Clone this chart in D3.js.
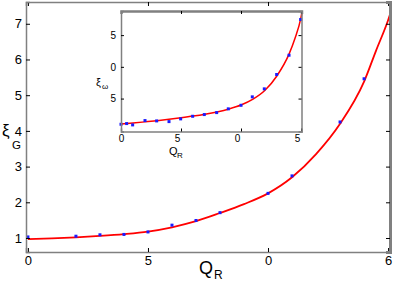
<!DOCTYPE html>
<html>
<head>
<meta charset="utf-8">
<script src="https://cdn.jsdelivr.net/npm/d3@7"></script>
<style>
  body { margin: 0; background: #fff; }
  text { font-family: "Liberation Sans", Arial, sans-serif; }
</style>
</head>
<body>
<div id="container"></div>
<script>
// main panel: fitted curve and measured points
const mainCurveQ = [0, 1, 2, 3, 4, 5, 6, 7, 8, 9, 10, 11, 12, 13, 14, 14.5, 15, 15.1]
const mainCurveXi = [0.97, 0.99, 1.02, 1.06, 1.11, 1.18, 1.30, 1.47, 1.70, 1.95, 2.25, 2.70, 3.35, 4.20, 5.38, 6.25, 7.10, 7.30]
const mainPointQ = [0, 2, 3, 4, 5, 6, 7, 8, 10, 11, 13, 14]
const mainPointXi = [1.03, 1.05, 1.09, 1.10, 1.17, 1.36, 1.49, 1.71, 2.25, 2.74, 4.25, 5.46]
const mainXTicks = [0, 5, 10, 15]
const mainXLabels = ["0", "5", "0", "6"]
const mainYTicks = [1, 2, 3, 4, 5, 6, 7]

// inset panel
const insetCurveQ = [0, 1, 2, 3, 4, 5, 6, 7, 8, 9, 10, 11, 12, 13, 14, 14.5, 15, 15.1]
const insetCurveXi = [1.0, 1.15, 1.33, 1.52, 1.74, 1.98, 2.24, 2.54, 2.90, 3.36, 3.98, 4.9, 6.3, 8.6, 12.0, 14.5, 17.8, 18.8]
const insetPointQ = [0, 0.47, 0.97, 2, 2.97, 4, 4.97, 5.97, 6.94, 7.97, 8.94, 10, 10.94, 11.94, 12.97, 14, 14.97]
const insetPointXi = [0.95, 1.06, 0.85, 1.53, 1.48, 1.37, 1.80, 2.21, 2.48, 2.79, 3.38, 3.94, 5.27, 6.53, 8.79, 11.83, 17.46]
const insetXTicks = [0, 5, 10, 15]
const insetXLabels = ["0", "5", "0", "5"]
const insetYTicks = [5, 10, 15]
const insetYLabels = ["5", "0", "5"]

const W = 399, H = 282
const svg = d3.select("#container").append("svg")
  .attr("width", W).attr("height", H)

function panel(box, xDom, yDom, curveQ, curveXi, ptQ, ptXi, opt) {
  const x = d3.scaleLinear().domain(xDom).range([box.left, box.right])
  const y = d3.scaleLinear().domain(yDom).range([box.bottom, box.top])
  const g = svg.append("g")

  g.append("rect")
    .attr("x", box.left).attr("y", box.top)
    .attr("width", box.right - box.left).attr("height", box.bottom - box.top)
    .attr("fill", "#fff")

  const line = d3.line().x((d, i) => x(curveQ[i])).y(d => y(d)).curve(d3.curveMonotoneX)
  g.append("path")
    .datum(curveXi)
    .attr("d", line)
    .attr("fill", "none")
    .attr("stroke", "#ff0000")
    .attr("stroke-width", opt.lw)

  g.selectAll(".pt")
    .data(ptXi)
    .join("rect")
    .attr("x", (d, i) => x(ptQ[i]) - opt.ps / 2)
    .attr("y", d => y(d) - opt.ps / 2)
    .attr("width", opt.ps).attr("height", opt.ps)
    .attr("fill", "#1a1aff")

  // axes, ticks inside like matlab
  const bottom = g.append("g").attr("transform", `translate(0,${box.bottom})`)
    .call(d3.axisBottom(x).tickValues(opt.xTicks).tickSize(-opt.tl).tickPadding(opt.tl + opt.xPad)
      .tickFormat((d, i) => opt.xLabels[i]))
  const top = g.append("g").attr("transform", `translate(0,${box.top})`)
    .call(d3.axisTop(x).tickValues(opt.xTicks).tickSize(-opt.tl).tickFormat(""))
  const left = g.append("g").attr("transform", `translate(${box.left},0)`)
    .call(d3.axisLeft(y).tickValues(opt.yTicks).tickSize(-opt.tl).tickPadding(opt.tl + opt.yPad)
      .tickFormat((d, i) => opt.yLabels[i]))
  const right = g.append("g").attr("transform", `translate(${box.right},0)`)
    .call(d3.axisRight(y).tickValues(opt.yTicks).tickSize(-opt.tl).tickFormat(""))

  for (const a of [bottom, top, left, right]) {
    a.select(".domain").attr("stroke", "#808080").attr("stroke-width", 1.5)
    a.selectAll(".tick line").attr("stroke", "#000")
    a.selectAll("text").attr("fill", "#000").style("font-size", opt.fs + "px")
      .style("font-family", "'Liberation Sans', Arial, sans-serif")
  }
  bottom.selectAll("text").attr("dx", (d, i) => i == 0 ? 0 : opt.xdx)
  top.select(".domain").attr("stroke-width", opt.topW)
  right.select(".domain").attr("stroke-width", opt.rightW)
  return {x, y}
}

// main axes
panel({left: 26, right: 390, top: 2, bottom: 252},
  [-0.08, 15.08], [0.608, 7.61],
  mainCurveQ, mainCurveXi, mainPointQ, mainPointXi,
  {lw: 1.8, ps: 3, tl: 4, xPad: 0, yPad: 0, fs: 13, xdx: 0,
   xTicks: mainXTicks, xLabels: mainXLabels,
   yTicks: mainYTicks, yLabels: mainYTicks.map(String), topW: 1.5, rightW: 3})

// inset axes
panel({left: 121, right: 301.5, top: 11, bottom: 131.5},
  [0, 15.04], [-0.19, 18.8],
  insetCurveQ, insetCurveXi, insetPointQ, insetPointXi,
  {lw: 1.5, ps: 3, tl: 3, xPad: 0, yPad: 2, fs: 10, xdx: -4,
   xTicks: insetXTicks, xLabels: insetXLabels,
   yTicks: insetYTicks, yLabels: insetYLabels, topW: 2.5, rightW: 1.5})

// axis titles, symbol and subscript as separate texts
function title(xp, yp, main, sub, fs, sfs, sx, sy) {
  svg.append("text").attr("x", xp).attr("y", yp)
    .style("font-size", fs + "px").attr("fill", "#000").text(main)
  svg.append("text").attr("x", xp + sx).attr("y", yp + sy)
    .style("font-size", sfs + "px").attr("fill", "#000").text(sub)
}
title(2, 136, "ξ", "G", 17, 11.5, 10, 13)
title(199, 274, "Q", "R", 18, 12, 15, 5)
title(96, 86, "ξ", "ω", 11, 8, 6, 3)
title(169, 155, "Q", "R", 11, 8, 8, 3)
</script>
</body>
</html>
